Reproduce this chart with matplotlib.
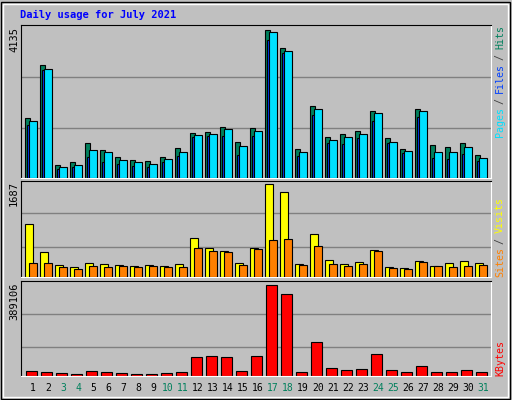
import matplotlib
matplotlib.use("Agg")
import matplotlib.pyplot as plt
import numpy as np

days = list(range(1, 32))
weekend = [3, 4, 10, 11, 17, 18, 24, 25, 31]

hit_px = [292,132,433,424,367,388,409,418,421,409,382,337,334,319,364,322,28,82,385,256,349,340,331,271,352,385,265,373,379,367,403]
file_px = [300,145,439,433,388,394,418,424,430,415,394,343,340,325,376,331,34,91,394,265,358,349,340,277,364,391,271,394,394,379,412]
page_px = [313,148,445,438,409,424,430,436,439,424,406,349,346,346,403,346,58,97,406,283,367,370,352,301,367,397,289,412,415,400,421]
hits = [round(4135*(470-v)/442) for v in hit_px]
files = [round(4135*(470-v)/442) for v in file_px]
pages = [round(4135*(470-v)/442) for v in page_px]

vis_px = [145,229,268,274,262,265,268,271,268,271,265,187,217,226,262,217,28,52,265,175,253,265,259,223,274,277,256,271,262,256,262]
site_px = [262,262,274,280,271,274,271,274,271,274,274,217,226,229,268,220,193,190,268,211,265,271,265,226,277,280,259,271,274,271,268]
visits = [round(1687*(304-v)/276) for v in vis_px]
sites = [round(1687*(304-v)/276) for v in site_px]

kb_px = [586,589,592,595,586,589,592,595,595,592,589,544,541,544,586,541,328,355,589,499,577,583,580,535,583,589,571,589,589,583,589]
kbytes = [round(389106*(601-v)/273) for v in kb_px]

BG = "#C0C0C0"
W, H = 512, 400
fig = plt.figure(figsize=(5.12, 4.0), dpi=100, facecolor=BG)
mono = "DejaVu Sans Mono"

def ax_at(x0, y0, x1, y1):
    a = fig.add_axes([x0/W, 1-y1/H, (x1-x0)/W, (y1-y0)/H])
    a.set_facecolor(BG)
    a.set_xticks([]); a.set_yticks([])
    for s in ("top", "left"):
        a.spines[s].set_color("black")
    for s in ("bottom", "right"):
        a.spines[s].set_color("white")
    a.set_xlim(0.18, 31.53)
    return a

fig.patches.append(plt.Rectangle((1/W, 1/H), 509/W, 397/H, transform=fig.transFigure,
                                 fill=False, ec="black", lw=1))
fig.patches.append(plt.Rectangle((3/W, 3/H), 505/W, 393/H, transform=fig.transFigure,
                                 fill=False, ec="white", lw=1))

d = np.array(days, dtype=float)
ec = dict(edgecolor="black", linewidth=0.8)

a1 = ax_at(20.7, 25, 491, 177.5)
mx = max(hits)
a1.set_ylim(0, mx*1.035)
for f in (0.68, 0.335):
    a1.axhline(mx*f, color="#808080", lw=1, zorder=0)
a1.bar(d-0.513, hits, width=0.333, align="edge", color="#00805C", **ec, zorder=2)
a1.bar(d-0.42, pages, width=0.17, align="edge", color="#0040FF", **ec, zorder=3)
a1.bar(d-0.247, files, width=0.494, align="edge", color="#00E0FF", **ec, zorder=4)

a2 = ax_at(20.7, 180.5, 491, 277)
mx2 = max(visits)
a2.set_ylim(0, mx2*1.04)
for f in (0.685, 0.326):
    a2.axhline(mx2*f, color="#808080", lw=1, zorder=0)
a2.bar(d-0.513, visits, width=0.533, align="edge", color="#FFFF00", **ec, zorder=2)
a2.bar(d-0.247, sites, width=0.494, align="edge", color="#FF8000", **ec, zorder=3)

a3 = ax_at(20.7, 280.5, 491, 376)
mx3 = max(kbytes)
a3.set_ylim(0, mx3*1.044)
for f in (0.681, 0.319):
    a3.axhline(mx3*f, color="#808080", lw=1, zorder=0)
a3.bar(d-0.447, kbytes, width=0.694, align="edge", color="#FF0000", **ec, zorder=2)

def ftxt(x, y, s, **kw):
    fig.text(x/W, 1-y/H, s, family=mono, **kw)

ftxt(20, 15, "Daily usage for July 2021", color="#0000FF", fontsize=7.5, weight="bold", va="center")

for i, dd in enumerate(days):
    ftxt(33 + 15*i, 388, str(dd), color="#00805C" if dd in weekend else "black",
         fontsize=7, ha="center", va="center")

ftxt(14, 27, "4135", rotation=90, fontsize=7.5, ha="center", va="top")
ftxt(14, 181, "1687", rotation=90, fontsize=7.5, ha="center", va="top")
ftxt(14, 283, "389106", rotation=90, fontsize=7.5, ha="center", va="top")

cw = 5.5
def vstack(x, ybot, pieces):
    off = 0
    for s, c in pieces:
        ftxt(x, ybot - off*cw, s, color=c, rotation=90, fontsize=7.2, ha="center", va="bottom")
        off += len(s)

vstack(500, 137, [("Pages", "#00E0FF"), (" / ", "#404040"), ("Files", "#0040FF"),
                  (" / ", "#404040"), ("Hits", "#00805C")])
vstack(500, 277, [("Sites", "#FF8000"), (" / ", "#404040"), ("Visits", "#FFFF00")])
vstack(500, 376, [("KBytes", "#FF0000")])

fig.savefig("out.png", dpi=100, facecolor=BG)
